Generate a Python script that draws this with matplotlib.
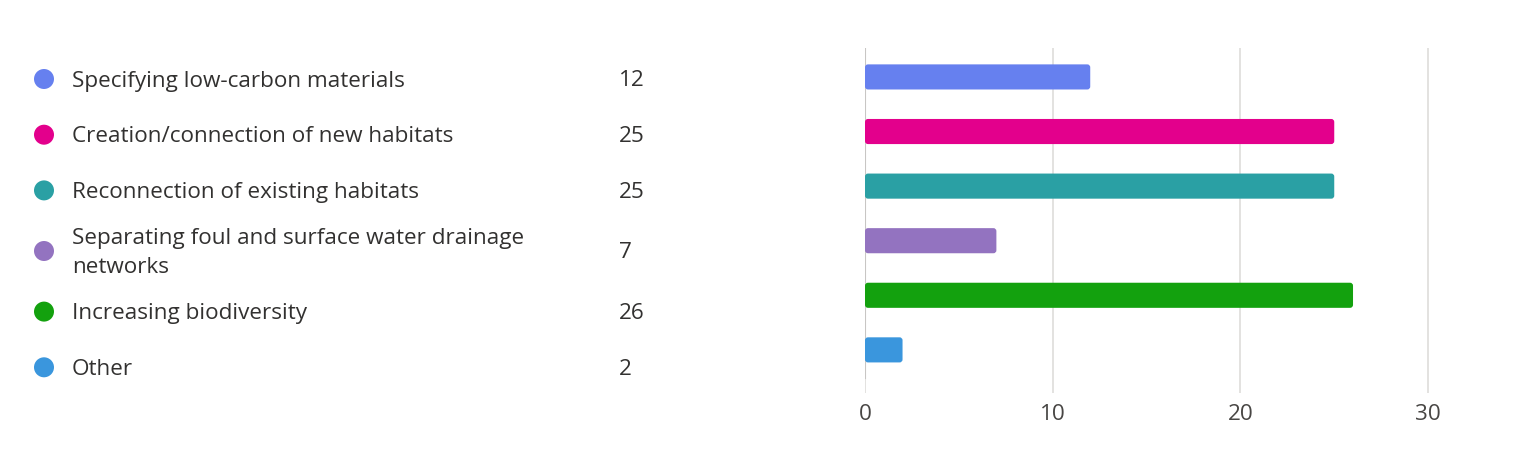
import matplotlib
matplotlib.use("Agg")
import matplotlib.pyplot as plt
from matplotlib.patches import FancyBboxPatch, Ellipse

categories = [
    "Specifying low-carbon materials",
    "Creation/connection of new habitats",
    "Reconnection of existing habitats",
    "Separating foul and surface water drainage\nnetworks",
    "Increasing biodiversity",
    "Other",
]
counts = [12, 25, 25, 7, 26, 2]
colors = ["#6680EF", "#E3008C", "#2AA0A4", "#9373C0", "#13A10E", "#3A96DD"]
xticks = [0, 10, 20, 30]

W, H = 1514, 465
DPI = 100
plt.rcParams['font.family'] = ['Open Sans', 'DejaVu Sans']
FS = 16.2
TEXT = "#323130"
TICK = "#484644"

fig = plt.figure(figsize=(W / DPI, H / DPI), dpi=DPI)
fig.patch.set_facecolor("white")

# axes geometry in pixels
x0_px, px_per_unit = 865, 18.77
xmax = 32
ax_left = x0_px / W
ax_width = xmax * px_per_unit / W
ax_top_px, ax_bot_px = 48, 393
ax = fig.add_axes([ax_left, (H - ax_bot_px) / H, ax_width, (ax_bot_px - ax_top_px) / H])

ypos = list(range(len(categories)))
bars = ax.barh(ypos, counts, height=0.46, color=colors, linewidth=0)
ax.set_xlim(0, xmax)
ax.set_ylim(5.79, -0.53)

# replace with rounded bars
row_px = 54.6
aspect = px_per_unit / row_px
for b, c in zip(bars, colors):
    b.set_visible(False)
    p = FancyBboxPatch((b.get_x(), b.get_y()), b.get_width(), b.get_height(),
                       boxstyle="round,pad=0,rounding_size=0.16",
                       mutation_aspect=aspect, facecolor=c, edgecolor="none", zorder=3)
    ax.add_patch(p)

for s in ax.spines.values():
    s.set_visible(False)
ax.set_yticks([])
ax.set_xticks(xticks)
ax.tick_params(axis='x', length=0, pad=8, labelsize=FS, labelcolor=TICK)
for t in xticks:
    ax.axvline(t, color="#E1DFDD", linewidth=1.3, zorder=1)
ax.axvline(0, ymin=(ax_bot_px - 378) / (ax_bot_px - ax_top_px), ymax=1,
           color="#C8C6C4", linewidth=1.5, zorder=2)

# legend list on the left
row_single, row_double = 55.7, 65.5
y = 79
prev_h = None
for i, (cat, n, c) in enumerate(zip(categories, counts, colors)):
    h = row_double if "\n" in cat else row_single
    if prev_h is not None:
        y += prev_h / 2 + h / 2
    prev_h = h
    fy = (H - y) / H
    ty = (H - y - 2) / H
    fig.add_artist(Ellipse((44 / W, fy), 20 / W, 20 / H, transform=fig.transFigure,
                           facecolor=c, edgecolor="none"))
    fig.text(72 / W, ty, cat, fontsize=FS, color=TEXT, va="center", ha="left",
             linespacing=1.5)
    fig.text(619 / W, ty, str(n), fontsize=FS, color=TEXT, va="center", ha="left")

fig.savefig("out.png", dpi=DPI, facecolor="white")
